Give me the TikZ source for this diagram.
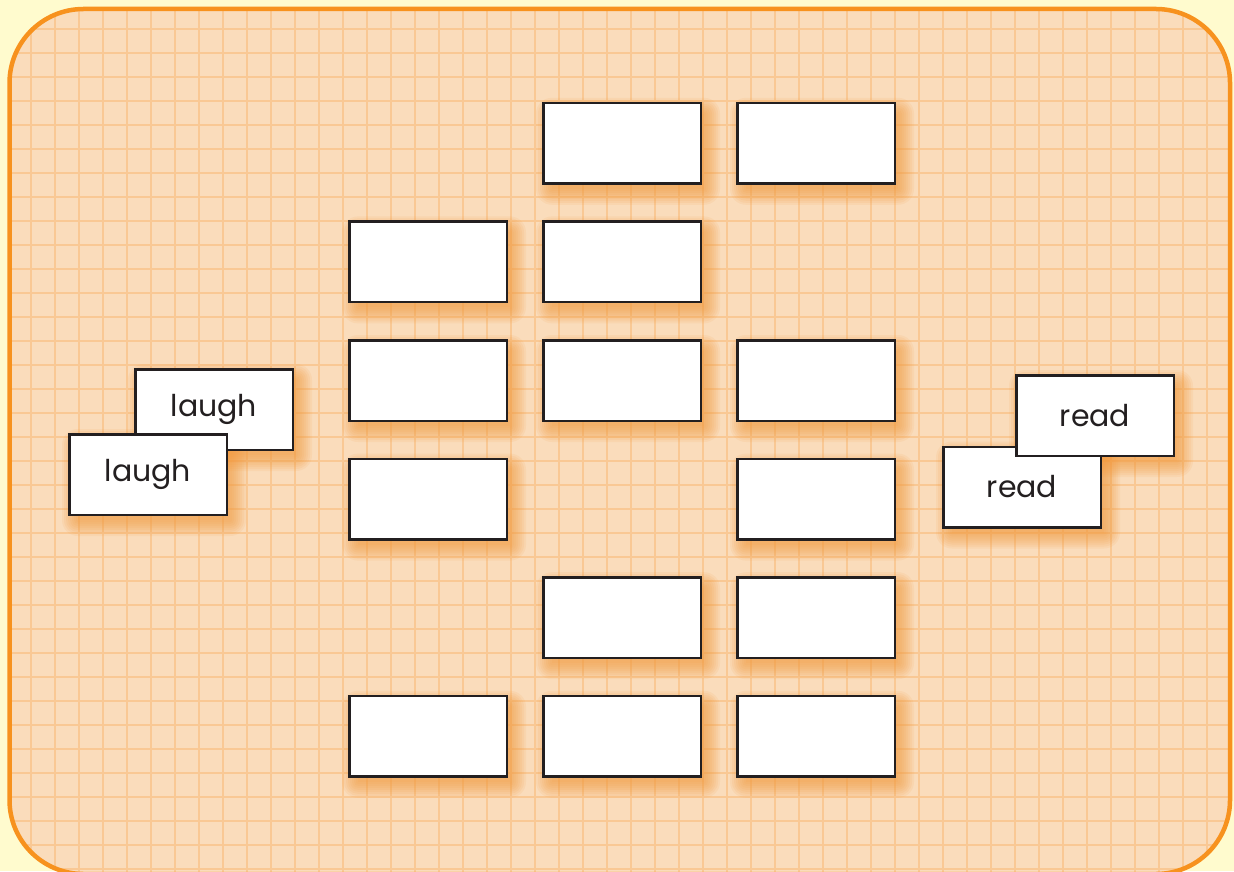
\documentclass[tikz,border=0pt]{standalone}
\usepackage{fontspec}
\setmainfont{Poppins}
\usetikzlibrary{positioning}

\definecolor{paper}{HTML}{FFFBCE}
\definecolor{panelfill}{HTML}{FADCBB}
\definecolor{panelline}{HTML}{F7921E}
\definecolor{gridline}{HTML}{F9C894}
\definecolor{ink}{HTML}{231F20}
\definecolor{glow}{HTML}{F39A3C}

\pgfdeclarelayer{backdrop}
\pgfdeclarelayer{shadowlayer}
\pgfsetlayers{backdrop,shadowlayer,main}

\begin{document}
\begin{tikzpicture}[
  x=1pt, y=1pt,
  node distance=17.8pt and 17pt,
  cell/.style={draw=ink, line width=1.25pt, fill=white, minimum width=78.75pt, minimum height=40.25pt, inner sep=0pt},
  word/.style={cell, font=\fontsize{15}{18}\selectfont, text=ink},
  glowshadow/.style={fill=glow, fill opacity=0.1}
]
\useasboundingbox (0,0) rectangle (617,-435.5);
\begin{pgfonlayer}{backdrop}
\fill[paper] (0,0) rectangle (617,-435.5);
% panel with grid
\fill[panelfill, rounded corners=37pt] (4.75,-4.5) rectangle (615,-437);
\begin{scope}
  \clip[rounded corners=37pt] (4.75,-4.5) rectangle (615,-437);
  \draw[gridline, line width=0.8pt, step=12, xshift=3.6pt, yshift=-2.6pt] (-24,24) grid (648,-468);
\end{scope}
\draw[panelline, line width=2.25pt, rounded corners=37pt] (4.75,-4.5) rectangle (615,-437);
\end{pgfonlayer}

% empty cells
\node[cell] (c31) at (214,-190.25) {};
\node[cell, right=of c31] (c32) {};
\node[cell, right=of c32] (c33) {};
\node[cell, above=of c31] (c21) {};
\node[cell, above=of c32] (c22) {};
\node[cell, above=of c22] (c12) {};
\node[cell, right=of c12] (c13) {};
\node[cell, below=of c31] (c41) {};
\node[cell, below=of c33] (c43) {};
\node[cell, below=of c43] (c53) {};
\node[cell, left=of c53] (c52) {};
\node[cell, below=of c52] (c62) {};
\node[cell, left=of c62] (c61) {};
\node[cell, right=of c62] (c63) {};

% word cards
\node[word] (laughback) at (107,-204.75) {laugh};
\node[word] (laughfront) at (74,-237.25) {laugh};
\node[word] (readfront) at (511,-243.5) {read};
\node[word] (readback) at (547.5,-207.75) {read};

% soft orange shadows behind every card
\begin{pgfonlayer}{shadowlayer}
  \foreach \n in {c12,c13,c21,c22,c31,c32,c33,c41,c43,c52,c53,c61,c62,c63,laughback,laughfront,readfront,readback}
    \foreach \r in {-2,...,6}
      \fill[glowshadow, rounded corners={\r+2}]
        ([shift={(3-\r,-4-\r)}]\n.south west) rectangle ([shift={(3+\r,-4+\r)}]\n.north east);
\end{pgfonlayer}
\end{tikzpicture}
\end{document}
